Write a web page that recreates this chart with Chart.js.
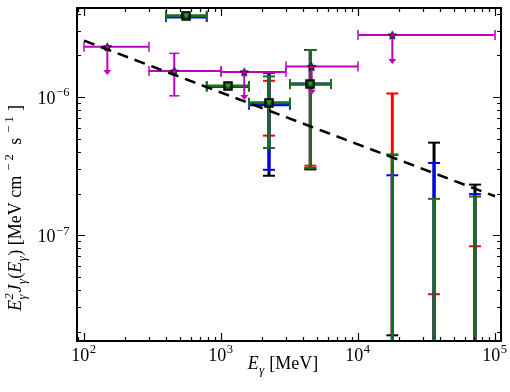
<!DOCTYPE html>
<html>
<head>
<meta charset="utf-8">
<script src="https://cdn.jsdelivr.net/npm/chart.js@4.4.0/dist/chart.umd.min.js"></script>
<style>
  html, body { margin: 0; padding: 0; background: #fff; }
  canvas { display: block; }
</style>
</head>
<body>
<canvas id="myChart" width="510" height="392"></canvas>
<script>
// power-law fit (dashed line)
var fitX = [100, 100000];
var fitY = [2.56e-6, 1.91e-7];

// magenta stars: bins, upper-limit arrows, one measured point with errors
var magX = [148, 456, 1479, 4590, 17800];
var magY = [2.31e-6, 1.54e-6, 1.52e-6, 1.66e-6, 2.81e-6];
var magBinLo = [100, 298, 1000, 2980, 10000];
var magBinHi = [298, 1000, 2980, 10000, 100000];
var magLimit = [1.44e-6, null, 9.5e-7, 1.04e-6, 1.73e-6];
var magErrHi = [null, 2.07e-6, null, null, null];
var magErrLo = [null, 1.02e-6, null, null, null];

// squares, four overlaid series share the energies
var sqX = [556, 1125, 2240, 4490, 17800, 35900, 71400];
var sqBinLo = [397, 787, 1600, 3190, null, null, null];
var sqBinHi = [787, 1600, 3190, 6350, null, null, null];
var greenY = [3.88e-6, 1.20e-6, 9.1e-7, 1.24e-6, null, null, null];
var blueY = [3.80e-6, 1.19e-6, 8.8e-7, 1.24e-6, null, null, null];

var blackHi = [null, null, 1.50e-6, 2.19e-6, 3.82e-7, 4.67e-7, 2.32e-7];
var blackLo = [null, null, 2.69e-7, 2.99e-7, 1.88e-8, 1e-9, 1e-9];
var redHi = [null, null, 1.31e-6, 2.19e-6, 1.06e-6, 3.73e-8, 8.3e-8];
var redLo = [null, null, 5.25e-7, 3.18e-7, 1e-9, 1e-9, 1e-9];
var blueHi = [null, null, 1.50e-6, 2.19e-6, 2.71e-7, 3.33e-7, 1.98e-7];
var blueLo = [null, null, 2.97e-7, 3.05e-7, 1e-9, 1e-9, 1e-9];
var greenHi = [null, null, 1.41e-6, 2.19e-6, 3.82e-7, 1.83e-7, 1.90e-7];
var greenLo = [null, null, 4.27e-7, 3.05e-7, 1e-9, 1e-9, 1e-9];

// axis ranges
var xMin = 88.9, xMax = 110600;
var yMin = 1.71e-8, yMax = 4.41e-6;
var xTickExp = [2, 3, 4, 5];
var yTickExp = [-7, -6];

var MAG = '#c000c0';
var GREEN = '#1b701b';
var BLUE = '#0000ff';
var RED = '#ff0000';
var FONT = '"Liberation Serif", "Times New Roman", serif';

var errSeries = [
  { color: '#000000', hi: blackHi, lo: blackLo },
  { color: RED, hi: redHi, lo: redLo },
  { color: BLUE, hi: blueHi, lo: blueLo },
  { color: GREEN, hi: greenHi, lo: greenLo }
];

// marker images
function makeStar() {
  var c = document.createElement('canvas');
  c.width = 11; c.height = 11;
  var g = c.getContext('2d');
  g.beginPath();
  for (var i = 0; i < 10; i++) {
    var r = i % 2 == 0 ? 4.3 : 1.9;
    var a = -Math.PI / 2 + i * Math.PI / 5;
    var px = 5.5 + r * Math.cos(a), py = 6 + r * Math.sin(a);
    if (i == 0) g.moveTo(px, py); else g.lineTo(px, py);
  }
  g.closePath();
  g.fillStyle = MAG;
  g.fill();
  g.lineWidth = 1;
  g.strokeStyle = '#000';
  g.stroke();
  return c;
}
function makeSquare() {
  var c = document.createElement('canvas');
  c.width = 10; c.height = 10;
  var g = c.getContext('2d');
  g.fillStyle = '#123f12';
  g.fillRect(1, 1, 8, 8);
  g.lineWidth = 1.5;
  g.strokeStyle = '#000';
  g.strokeRect(1, 1, 8, 8);
  g.beginPath();
  g.moveTo(2.2, 2.8); g.lineTo(7.8, 2.8); g.lineTo(5, 7.8); g.closePath();
  g.fillStyle = '#2f9a2f';
  g.fill();
  return c;
}

function pts(xs, ys) {
  var out = [];
  for (var i = 0; i < xs.length; i++) {
    if (ys[i] != null) out.push({ x: xs[i], y: ys[i] });
  }
  return out;
}

// error bars, bins and upper-limit arrows
var barsPlugin = {
  id: 'bars',
  beforeDatasetsDraw: function(chart) {
    var ctx = chart.ctx, sx = chart.scales.x, sy = chart.scales.y, a = chart.chartArea;
    ctx.save();
    ctx.beginPath();
    ctx.rect(a.left, a.top, a.right - a.left, a.bottom - a.top);
    ctx.clip();

    function hline(x1, x2, y) { ctx.beginPath(); ctx.moveTo(x1, y); ctx.lineTo(x2, y); ctx.stroke(); }
    function vline(x, y1, y2) { ctx.beginPath(); ctx.moveTo(x, y1); ctx.lineTo(x, y2); ctx.stroke(); }

    // vertical error bars of the four series
    errSeries.forEach(function(s) {
      ctx.strokeStyle = s.color;
      for (var i = 0; i < sqX.length; i++) {
        if (s.hi[i] == null) continue;
        var px = sx.getPixelForValue(sqX[i]);
        var yh = sy.getPixelForValue(s.hi[i]);
        var yl = sy.getPixelForValue(s.lo[i]);
        ctx.lineWidth = 3;
        vline(px, yh, yl);
        ctx.lineWidth = 2;
        hline(px - 6, px + 6, yh);
        hline(px - 6, px + 6, yl);
      }
    });

    // horizontal bins (blue under green)
    [[blueY, BLUE], [greenY, GREEN]].forEach(function(b) {
      ctx.strokeStyle = b[1];
      for (var i = 0; i < sqX.length; i++) {
        if (b[0][i] == null || sqBinLo[i] == null) continue;
        var x1 = sx.getPixelForValue(sqBinLo[i]);
        var x2 = sx.getPixelForValue(sqBinHi[i]);
        var py = sy.getPixelForValue(b[0][i]);
        ctx.lineWidth = 3;
        hline(x1, x2, py);
        ctx.lineWidth = 2;
        vline(x1, py - 5, py + 5);
        vline(x2, py - 5, py + 5);
      }
    });

    // magenta bins, errors and arrows
    ctx.strokeStyle = MAG;
    ctx.fillStyle = MAG;
    for (var i = 0; i < magX.length; i++) {
      var px = sx.getPixelForValue(magX[i]);
      var py = sy.getPixelForValue(magY[i]);
      var x1 = sx.getPixelForValue(magBinLo[i]);
      var x2 = sx.getPixelForValue(magBinHi[i]);
      ctx.lineWidth = 2;
      hline(x1, x2, py);
      ctx.lineWidth = 1.5;
      vline(x1, py - 5, py + 5);
      vline(x2, py - 5, py + 5);
      if (magLimit[i] != null) {
        var yt = sy.getPixelForValue(magLimit[i]);
        ctx.lineWidth = 2;
        vline(px, py, yt - 4);
        ctx.beginPath();
        ctx.moveTo(px - 4, yt - 5);
        ctx.lineTo(px + 4, yt - 5);
        ctx.lineTo(px, yt);
        ctx.closePath();
        ctx.fill();
      }
      if (magErrHi[i] != null) {
        var yh = sy.getPixelForValue(magErrHi[i]);
        var yl = sy.getPixelForValue(magErrLo[i]);
        ctx.lineWidth = 2;
        vline(px, yh, yl);
        ctx.lineWidth = 1.5;
        hline(px - 5, px + 5, yh);
        hline(px - 5, px + 5, yl);
      }
    }
    ctx.restore();
  }
};

// rich text: segments {t, it} or {sup, sub}
function segFont(size, it) { return (it ? 'italic ' : '') + size + 'px ' + FONT; }
function richWidth(ctx, segs, size) {
  var w = 0;
  segs.forEach(function(s) {
    if (s.t != null) { ctx.font = segFont(size, s.it); w += ctx.measureText(s.t).width; }
    else {
      ctx.font = segFont(size * 0.7, s.it);
      var a = s.sup ? ctx.measureText(s.sup).width : 0;
      var b = s.sub ? ctx.measureText(s.sub).width : 0;
      w += Math.max(a, b) + 1;
    }
  });
  return w;
}
function drawRich(ctx, segs, x, y, size) {
  var cx = x;
  ctx.textBaseline = 'alphabetic';
  ctx.textAlign = 'left';
  segs.forEach(function(s) {
    if (s.t != null) {
      ctx.font = segFont(size, s.it);
      ctx.fillText(s.t, cx, y);
      cx += ctx.measureText(s.t).width;
    } else {
      ctx.font = segFont(size * 0.7, s.it);
      var a = 0, b = 0;
      if (s.sup) { ctx.fillText(s.sup, cx + 0.5, y - size * 0.42); a = ctx.measureText(s.sup).width; }
      if (s.sub) { ctx.fillText(s.sub, cx + 0.5, y + size * 0.25); b = ctx.measureText(s.sub).width; }
      cx += Math.max(a, b) + 1;
    }
  });
}

// frame, inward ticks on all sides, tick labels, axis titles
var axesPlugin = {
  id: 'axes',
  afterDraw: function(chart) {
    var ctx = chart.ctx, sx = chart.scales.x, sy = chart.scales.y, a = chart.chartArea;
    ctx.save();
    ctx.strokeStyle = '#000';
    ctx.fillStyle = '#000';
    ctx.lineWidth = 1.2;
    var n, m, v, p, len;
    for (n = 1; n <= 5; n++) {
      for (m = 1; m <= 9; m++) {
        v = m * Math.pow(10, n);
        if (v < xMin || v > xMax) continue;
        p = Math.round(sx.getPixelForValue(v)) + 0.5;
        len = m == 1 ? 8 : 4;
        ctx.beginPath();
        ctx.moveTo(p, a.bottom); ctx.lineTo(p, a.bottom - len);
        ctx.moveTo(p, a.top); ctx.lineTo(p, a.top + len);
        ctx.stroke();
      }
    }
    for (n = -9; n <= -5; n++) {
      for (m = 1; m <= 9; m++) {
        v = m * Math.pow(10, n);
        if (v < yMin || v > yMax) continue;
        p = Math.round(sy.getPixelForValue(v)) + 0.5;
        len = m == 1 ? 8 : 4;
        ctx.beginPath();
        ctx.moveTo(a.left, p); ctx.lineTo(a.left + len, p);
        ctx.moveTo(a.right, p); ctx.lineTo(a.right - len, p);
        ctx.stroke();
      }
    }
    ctx.lineWidth = 2;
    ctx.strokeRect(a.left, a.top, a.right - a.left, a.bottom - a.top);

    var size = 18;
    xTickExp.forEach(function(e) {
      var segs = [{ t: '10' }, { sup: String(e) }];
      var w = richWidth(ctx, segs, size);
      drawRich(ctx, segs, sx.getPixelForValue(Math.pow(10, e)) - w / 2, a.bottom + 20, size);
    });
    yTickExp.forEach(function(e) {
      var segs = [{ t: '10' }, { sup: '\u2212' + Math.abs(e) }];
      var w = richWidth(ctx, segs, size);
      drawRich(ctx, segs, 70 - w, sy.getPixelForValue(Math.pow(10, e)) + 7, size);
    });

    var xt = [{ t: 'E', it: true }, { sub: '\u03b3', it: true }, { t: ' [MeV]' }];
    var wx = richWidth(ctx, xt, size);
    drawRich(ctx, xt, 283 - wx / 2, 369, size);

    var yt = [{ t: 'E', it: true }, { sup: '2', sub: '\u03b3', it: true },
      { t: 'J', it: true }, { sub: '\u03b3', it: true }, { t: '(' },
      { t: 'E', it: true }, { sub: '\u03b3', it: true }, { t: ') [MeV cm ' },
      { sup: '\u2212 2' }, { t: '  s ' }, { sup: '\u2212 1' }, { t: ' ]' }];
    var wy = richWidth(ctx, yt, size);
    ctx.translate(21, 208);
    ctx.rotate(-Math.PI / 2);
    drawRich(ctx, yt, -wy / 2, 0, size);
    ctx.restore();
  }
};

var ctx = document.getElementById('myChart');
var myChart = new Chart(ctx, {
  type: 'scatter',
  data: {
    datasets: [
      {
        data: pts(fitX, fitY),
        showLine: true,
        borderColor: '#000',
        borderWidth: 2.5,
        borderDash: [11, 7],
        pointRadius: 0
      },
      {
        data: pts(magX, magY),
        pointStyle: makeStar()
      },
      {
        data: pts(sqX, greenY),
        pointStyle: makeSquare()
      }
    ]
  },
  options: {
    responsive: false,
    animation: false,
    layout: { padding: { left: 77, top: 8, right: 9, bottom: 51 } },
    plugins: { legend: { display: false }, tooltip: { enabled: false } },
    scales: {
      x: { type: 'logarithmic', min: xMin, max: xMax, display: false },
      y: { type: 'logarithmic', min: yMin, max: yMax, display: false }
    }
  },
  plugins: [barsPlugin, axesPlugin]
});
</script>
</body>
</html>
